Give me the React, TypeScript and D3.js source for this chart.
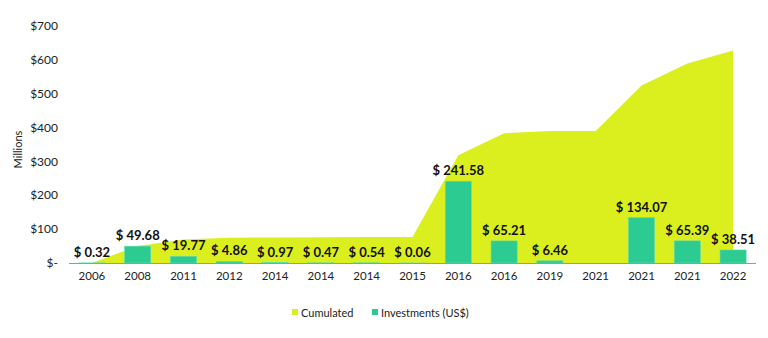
import React from "react";
import * as d3 from "d3";

const categories = ["2006", "2008", "2011", "2012", "2014", "2014", "2014", "2015", "2016", "2016", "2019", "2021", "2021", "2021", "2022"];
const investments: (number | null)[] = [0.32, 49.68, 19.77, 4.86, 0.97, 0.47, 0.54, 0.06, 241.58, 65.21, 6.46, null, 134.07, 65.39, 38.51];
const yTicks = [0, 100, 200, 300, 400, 500, 600, 700];

const W = 768, H = 338;
const margin = { left: 69, right: 12, top: 26, bottom: 75 };
const AREA_COLOR = "#dcef1e";
const BAR_COLOR = "#2ccb91";
const FONT = "Lato, 'Open Sans', sans-serif";

export default function App() {
  const x = d3.scaleBand<number>().domain(d3.range(categories.length)).range([margin.left, W - margin.right]).paddingInner(0.43).paddingOuter(0.215);
  const xc = (i: number) => (x(i) as number) + x.bandwidth() / 2;
  const y = d3.scaleLinear().domain([0, 700]).range([H - margin.bottom, margin.top]);

  let run = 0;
  const cumulated = investments.map((v) => (run += v ?? 0));
  const area = d3.area<number>().x((_, i) => xc(i)).y0(y(0)).y1((d) => y(d))(cumulated) as string;

  return (
    <div style={{ position: "absolute", left: 0, top: 0 }}>
      <svg width={W} height={H} style={{ display: "block", fontFamily: FONT }}>
        <rect width={W} height={H} fill="#fff" />
        <path d={area} fill={AREA_COLOR} />
        {yTicks.map((t) => (
          <text key={t} x={58} y={y(t)} dy="0.35em" textAnchor="end" fontSize={12} fill="#222">
            {t === 0 ? "$-" : `$${t}`}
          </text>
        ))}
        <text transform={`translate(22,${(y(0) + y(700)) / 2 + 5}) rotate(-90)`} textAnchor="middle" fontSize={11} fill="#222">Millions</text>
        {investments.map((v, i) =>
          v == null ? null : (
            <g key={i}>
              <rect x={x(i)} y={y(v)} width={x.bandwidth()} height={y(0) - y(v)} fill={BAR_COLOR} stroke="#5fdcae" strokeWidth={0.6} />
              <text x={xc(i)} y={y(v) - 6} textAnchor="middle" fontSize={13} fontWeight="bold" fill="#111">
                {`$ ${v.toFixed(2)}`}
              </text>
            </g>
          )
        )}
        <line x1={margin.left} x2={W - margin.right} y1={y(0) + 0.5} y2={y(0) + 0.5} stroke="#999" strokeWidth={1.2} />
        {categories.map((c, i) => (
          <text key={i} x={xc(i)} y={y(0) + 17} textAnchor="middle" fontSize={11.5} fill="#222">{c}</text>
        ))}
        <g transform="translate(292,313)">
          <rect x={0} y={-4} width={6} height={6} fill={AREA_COLOR} />
          <text x={9} y={0} dy="0.32em" fontSize={11} fill="#222">Cumulated</text>
          <rect x={80} y={-4} width={6} height={6} fill={BAR_COLOR} />
          <text x={89} y={0} dy="0.32em" fontSize={11} fill="#222">Investments (US$)</text>
        </g>
      </svg>
    </div>
  );
}
